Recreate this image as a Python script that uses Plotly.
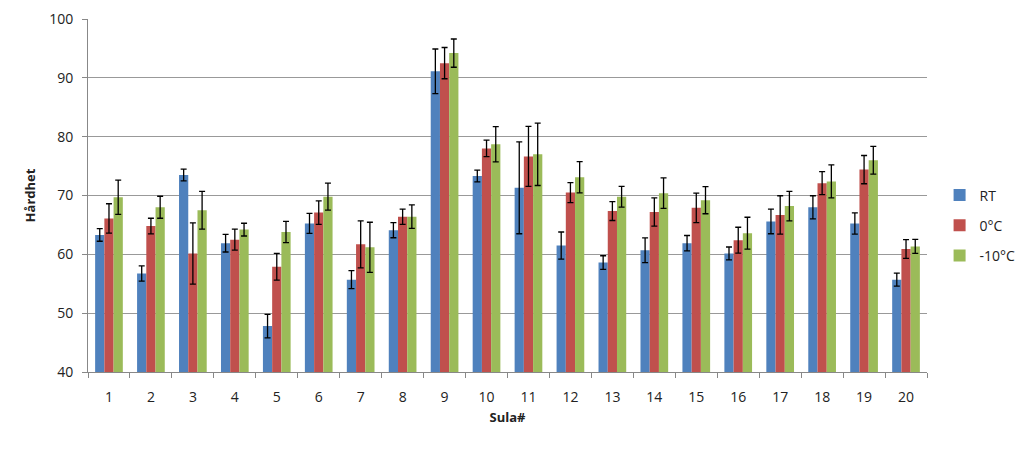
import plotly.graph_objects as go

# Sula number (categories)
sula = [str(i) for i in range(1, 21)]

# Hardness per sole, mean values
rt = [63.3, 56.75, 73.5, 61.9, 47.8, 65.25, 55.7, 64.1, 91.1, 73.3,
      71.3, 61.5, 58.6, 60.7, 61.9, 60.15, 65.6, 68.0, 65.25, 55.7]
zero_c = [66.1, 64.8, 60.15, 62.5, 57.9, 67.1, 61.7, 66.4, 92.5, 78.0,
          76.65, 70.5, 67.35, 67.2, 67.9, 62.4, 66.7, 72.1, 74.4, 60.9]
minus10_c = [69.7, 68.0, 67.5, 64.2, 63.8, 69.8, 61.2, 66.4, 94.2, 78.7,
             77.0, 73.1, 69.8, 70.4, 69.2, 63.6, 68.2, 72.4, 76.0, 61.35]

# Standard deviations (error bars)
rt_err = [1.08, 1.3, 1.0, 1.5, 2.0, 1.7, 1.53, 1.28, 3.8, 1.0,
          7.8, 2.3, 1.16, 2.1, 1.3, 1.1, 2.1, 1.96, 1.8, 1.1]
zero_c_err = [2.5, 1.33, 5.2, 1.8, 2.27, 2.0, 4.0, 1.3, 2.66, 1.4,
              5.1, 1.7, 1.6, 2.4, 2.5, 2.2, 3.26, 1.96, 2.4, 1.6]
minus10_c_err = [2.9, 1.87, 3.2, 1.08, 1.8, 2.3, 4.25, 2.0, 2.4, 3.0,
                 5.3, 2.66, 1.76, 2.6, 2.3, 2.7, 2.5, 2.8, 2.35, 1.2]

series = [
    ('RT', rt, rt_err, '#4F81BD'),
    ('0°C', zero_c, zero_c_err, '#C0504D'),
    ('-10°C', minus10_c, minus10_c_err, '#9BBB59'),
]

fig = go.Figure()
for name, vals, errs, color in series:
    fig.add_trace(go.Bar(
        x=sula,
        y=vals,
        name=name,
        legendgroup=name,
        marker=dict(color=color, line=dict(width=0)),
        error_y=dict(type='data', array=errs, visible=True,
                     color='black', thickness=1.3, width=3),
    ))

font_family = 'Open Sans, Liberation Sans, sans-serif'

# page body has an 8px default margin, so margins are offset to match
fig.update_layout(
    width=1024,
    height=450,
    margin=dict(l=80, r=101, t=11, b=86),
    barmode='group',
    bargap=0.34,
    bargroupgap=0,
    plot_bgcolor='white',
    paper_bgcolor='white',
    font=dict(family=font_family, size=13, color='#222'),
    legend=dict(x=1.015, y=0.415, yanchor='middle', xanchor='left',
                font=dict(size=14), tracegroupgap=9,
                itemwidth=30),
)

fig.update_xaxes(
    title=dict(text='<b>Sula#</b>', font=dict(size=13), standoff=8),
    showline=True, linecolor='#888', linewidth=1,
    ticks='outside', tickson='boundaries', ticklen=5, tickcolor='#888',
    ticklabelstandoff=12,
    tickfont=dict(size=14),
    showgrid=False, automargin=False,
)
fig.update_yaxes(
    title=dict(text='<b>Hårdhet</b>', font=dict(size=13), standoff=10),
    range=[40, 100], dtick=10,
    showline=True, linecolor='#888', linewidth=1,
    ticks='outside', ticklen=5, tickcolor='#888',
    ticklabelstandoff=6,
    tickfont=dict(size=14),
    showgrid=True, gridcolor='#999', gridwidth=1,
    zeroline=False, automargin=False,
)

fig.write_html("out.html")
